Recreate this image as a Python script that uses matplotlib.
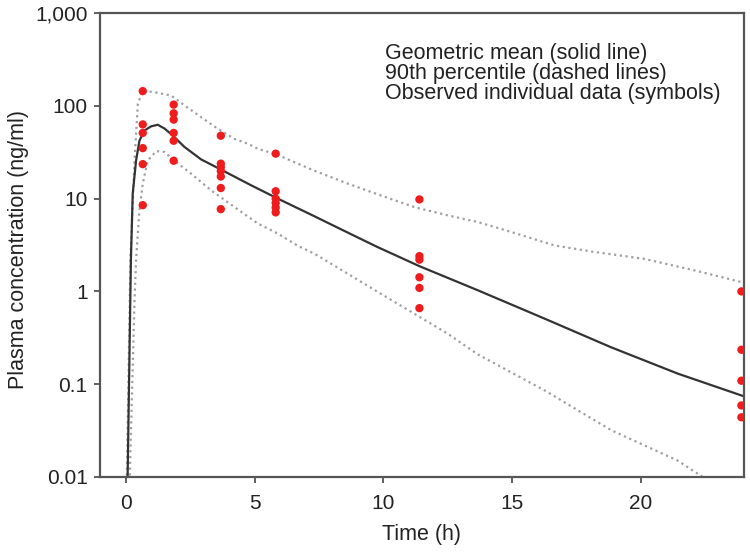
import matplotlib
matplotlib.use("Agg")
import matplotlib.pyplot as plt
from matplotlib.ticker import FixedLocator, FixedFormatter, NullLocator

plt.rcParams['font.family'] = ['Liberation Sans', 'DejaVu Sans']

# Observed individual data (time h, concentration ng/ml)
obs_t1 = [0.66] * 6
obs_c1 = [144, 63, 51, 35, 23.5, 8.5]
obs_t2 = [1.86] * 6
obs_c2 = [103, 83, 71, 51, 42, 25.6]
obs_t3 = [3.69] * 7
obs_c3 = [47.6, 23.8, 21.8, 19.8, 17.3, 13.0, 7.7]
obs_t4 = [5.82] * 6
obs_c4 = [30.5, 12.0, 10.0, 9.0, 8.0, 7.1]
obs_t5 = [11.4] * 6
obs_c5 = [9.8, 2.4, 2.2, 1.42, 1.09, 0.66]
obs_t6 = [23.9] * 5
obs_c6 = [1.0, 0.235, 0.109, 0.059, 0.044]

# Geometric mean curve
mean_t = [0.07, 0.2, 0.27, 0.4, 0.53, 0.72, 0.98, 1.24, 1.5, 1.82, 2.28, 2.92, 3.7, 4.87,
          5.9, 7.3, 8.62, 9.78, 11.4, 13.66, 16.25, 18.84, 21.43, 24.0]
mean_c = [0.009, 2.2, 11.3, 25.6, 42, 54, 60, 62.5, 57, 48, 36, 26.5, 20.5, 13.9,
          10, 6.5, 4.3, 3.0, 1.87, 1.03, 0.51, 0.25, 0.13, 0.074]

# 90th percentile bands
upper_t = [0.04, 0.18, 0.34, 0.47, 0.66, 1.11, 1.76, 2.28, 2.92, 3.57, 4.22, 4.74, 5.12, 5.84,
           6.68, 7.32, 8.62, 9.91, 11.2, 12.5, 13.66, 14.96, 16.64, 18.2, 20.1, 22.1, 24.0]
upper_c = [0.009, 2.2, 25.6, 105, 146, 140, 129, 101, 75.5, 56.6, 44, 39, 34.5, 30,
           23.8, 20, 14.5, 10.8, 8.1, 6.6, 5.6, 4.37, 3.13, 2.66, 2.25, 1.68, 1.24]
lower_t = [0.15, 0.34, 0.4, 0.53, 0.66, 0.85, 1.18, 1.5, 1.89, 2.54, 3.31, 4.22, 5.12, 5.9,
           6.68, 7.32, 8.62, 9.91, 11.2, 12.5, 13.66, 16.25, 18.84, 21.43, 22.3, 23.0]
lower_c = [0.009, 0.8, 2.2, 7.5, 14.5, 25.6, 32.5, 31.8, 25.6, 18.5, 12.3, 8.1, 5.4, 4.2,
           3.1, 2.55, 1.55, 0.94, 0.575, 0.35, 0.21, 0.086, 0.032, 0.015, 0.0104, 0.008]

yticks = [0.01, 0.1, 1, 10, 100, 1000]
ytick_labels = ['0.01', '0.1', '1', '10', '100', '1,000']
xticks = [0, 5, 10, 15, 20]
xtick_labels = ['0', '5', '10', '15', '20']

legend_lines = ['Geometric mean (solid line)',
                '90th percentile (dashed lines)',
                'Observed individual data (symbols)']

fig = plt.figure(figsize=(7.5, 5.52), dpi=100)
ax = fig.add_axes([100 / 750, 1 - 477 / 552, 644 / 750, 464 / 552])

dot_style = dict(color='#a0a0a0', lw=1.6, linestyle=(0, (1, 1.6)))
ax.plot(upper_t, upper_c, **dot_style)
ax.plot(lower_t, lower_c, **dot_style)
ax.plot(mean_t, mean_c, color='#333333', lw=1.6)

red = '#ee1c1c'
for t, c in [(obs_t1, obs_c1), (obs_t2, obs_c2), (obs_t3, obs_c3),
             (obs_t4, obs_c4), (obs_t5, obs_c5), (obs_t6, obs_c6)]:
    ax.scatter(t, c, s=36, color=red, edgecolors='none', zorder=3)

ax.set_yscale('log')
ax.set_ylim(0.01, 1000)
ax.set_xlim(-1, 24)
ax.yaxis.set_major_locator(FixedLocator(yticks))
ax.yaxis.set_major_formatter(FixedFormatter(ytick_labels))
ax.yaxis.set_minor_locator(NullLocator())
ax.set_xticks(xticks)
ax.set_xticklabels(xtick_labels)

for sp in ax.spines.values():
    sp.set_color('#555555')
    sp.set_linewidth(1.6)
ax.tick_params(axis='both', direction='out', length=4, width=1.3, color='#555555',
               labelsize=15, labelcolor='#222222')
ax.tick_params(axis='x', pad=8)
ax.tick_params(axis='y', pad=5)

ax.set_xlabel('Time (h)', fontsize=15.5, color='#222222')
ax.set_ylabel('Plasma concentration (ng/ml)', fontsize=15.5, color='#222222')
ax.xaxis.set_label_coords(0.5, -0.101)
ax.yaxis.set_label_coords(-0.11, 0.49)

for i, s in enumerate(legend_lines):
    fig.text(385 / 750, 1 - (59.3 + 20 * i) / 552, s, fontsize=15.5, color='#222222',
             ha='left', va='baseline')

fig.savefig('out.png', dpi=100)
